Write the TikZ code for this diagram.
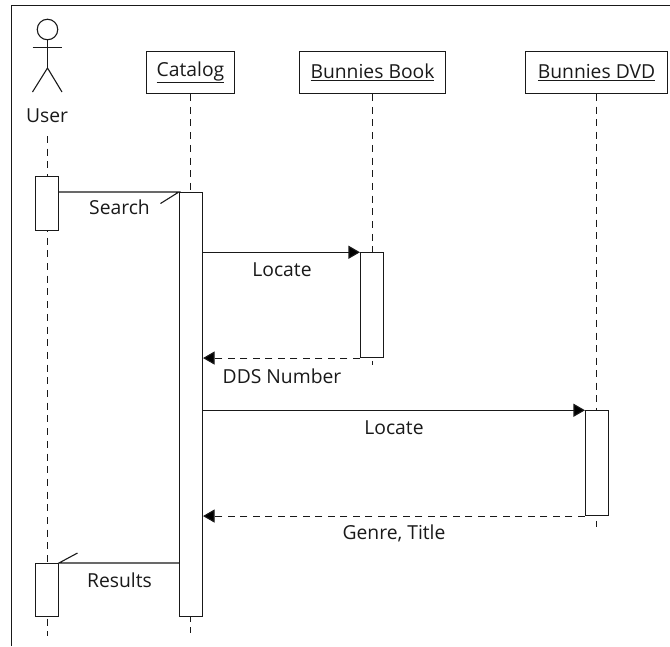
\documentclass[tikz,border=0pt]{standalone}
\usepackage{fontspec}
\setmainfont{Open Sans}
\usetikzlibrary{arrows.meta}
\tikzset{
  x=1pt,y=-1pt,
  ln/.style={line width=1.1pt,black!90},
  objbox/.style={draw,line width=1.1pt,black!90,rectangle,inner sep=0pt,minimum height=42pt,text=black!90},
  actbox/.style={draw,line width=1.1pt,black!90,fill=white,rectangle,inner sep=0pt,minimum width=23pt},
  lbl/.style={font=\fontsize{19.3}{22}\selectfont,text=black!90,inner sep=0pt},
  life/.style={line width=1.1pt,black!90,dash pattern=on 7pt off 5.7pt},
  msg/.style={line width=1.1pt,black!90},
  ret/.style={msg,dash pattern=on 7pt off 5.5pt},
  tip/.style={-{Triangle[length=11.5pt,width=13pt,fill=black]}},
}
\newcommand{\ul}[1]{\underline{#1}}
\begin{document}
\begin{tikzpicture}
\useasboundingbox (0,0) rectangle (670,646);
\coordinate (fa) at (11.5,646);
\coordinate (fb) at (11.5,5.5);
\coordinate (fc) at (670,5.5);
\draw[ln] (fa) -- (fb) -- (fc);

% actor
\node[draw,circle,ln,minimum size=20.5pt,inner sep=0pt] (head) at (47.5,29.5) {};
\coordinate (hip) at (47.5,68);
\coordinate (armL) at (32.5,47.5);
\coordinate (armR) at (62,47.5);
\coordinate (legL) at (32.5,92);
\coordinate (legR) at (62,92);
\draw[ln] (head.south) -- (hip);
\draw[ln] (armL) -- (armR);
\draw[ln] (legL) -- (hip) -- (legR);
\node[lbl] (user) at (47,115.5) {User};

% objects
\node[objbox,lbl,minimum width=88pt,draw] (catalog) at (190.5,72.5) {\ul{Catalog}};
\node[objbox,lbl,minimum width=146pt,draw] (book) at (372.5,72.5) {\ul{Bunnies Book}};
\node[objbox,lbl,minimum width=142pt,draw] (dvd) at (596.5,72.5) {\ul{Bunnies DVD}};

% lifeline end points
\coordinate (userTop) at (47.5,136);
\coordinate (userEnd) at (47.5,636);
\coordinate (catEnd) at (190.5,633);
\coordinate (bookEnd) at (372.5,365);
\coordinate (dvdEnd) at (596.5,527);

\draw[life] (userTop) -- (userEnd);
\draw[life] (catalog.south) -- (catEnd);
\draw[life] (book.south) -- (bookEnd);
\draw[life,dash pattern=on 7pt off 5.55pt] (dvd.south) -- (dvdEnd);

% activations
\node[actbox,minimum height=54pt] (ua) at (47,203.5) {};
\node[actbox,minimum height=53pt] (ub) at (47,590) {};
\node[actbox,minimum height=424pt] (ca) at (191,404.5) {};
\node[actbox,minimum height=104.7pt] (ba) at (372,305.15) {};
\node[actbox,minimum height=104.7pt] (da) at (597,463.15) {};

% message anchors on the catalog bar
\coordinate (cLocB) at (ca.east |- ba.north);
\coordinate (cDds) at (ca.east |- ba.south);
\coordinate (cLocD) at (ca.east |- da.north);
\coordinate (cGenre) at (ca.east |- da.south);
\coordinate (cRes) at (ca.west |- ub.north);
\coordinate (uSearch) at (ua.east |- ca.north);
\coordinate (searchBarb) at (160.5,203.5);
\coordinate (resBarb) at (77.5,553);

% messages
\draw[msg] (uSearch) -- (ca.north west) -- (searchBarb);
\draw[msg,tip] (cLocB) -- (ba.north west);
\draw[ret,tip] (ba.south west) -- (cDds);
\draw[msg,tip] (cLocD) -- (da.north west);
\draw[ret,tip] (da.south west) -- (cGenre);
\draw[msg] (cRes) -- (ub.north east) -- (resBarb);

% labels
\node[lbl] (l1) at (119.5,207.5) {Search};
\node[lbl] (l2) at (282,269.5) {Locate};
\node[lbl] (l3) at (282,376.5) {DDS Number};
\node[lbl] (l4) at (394,428) {Locate};
\node[lbl] (l5) at (394,533.5) {Genre, Title};
\node[lbl] (l6) at (119.5,580) {Results};
\end{tikzpicture}
\end{document}
